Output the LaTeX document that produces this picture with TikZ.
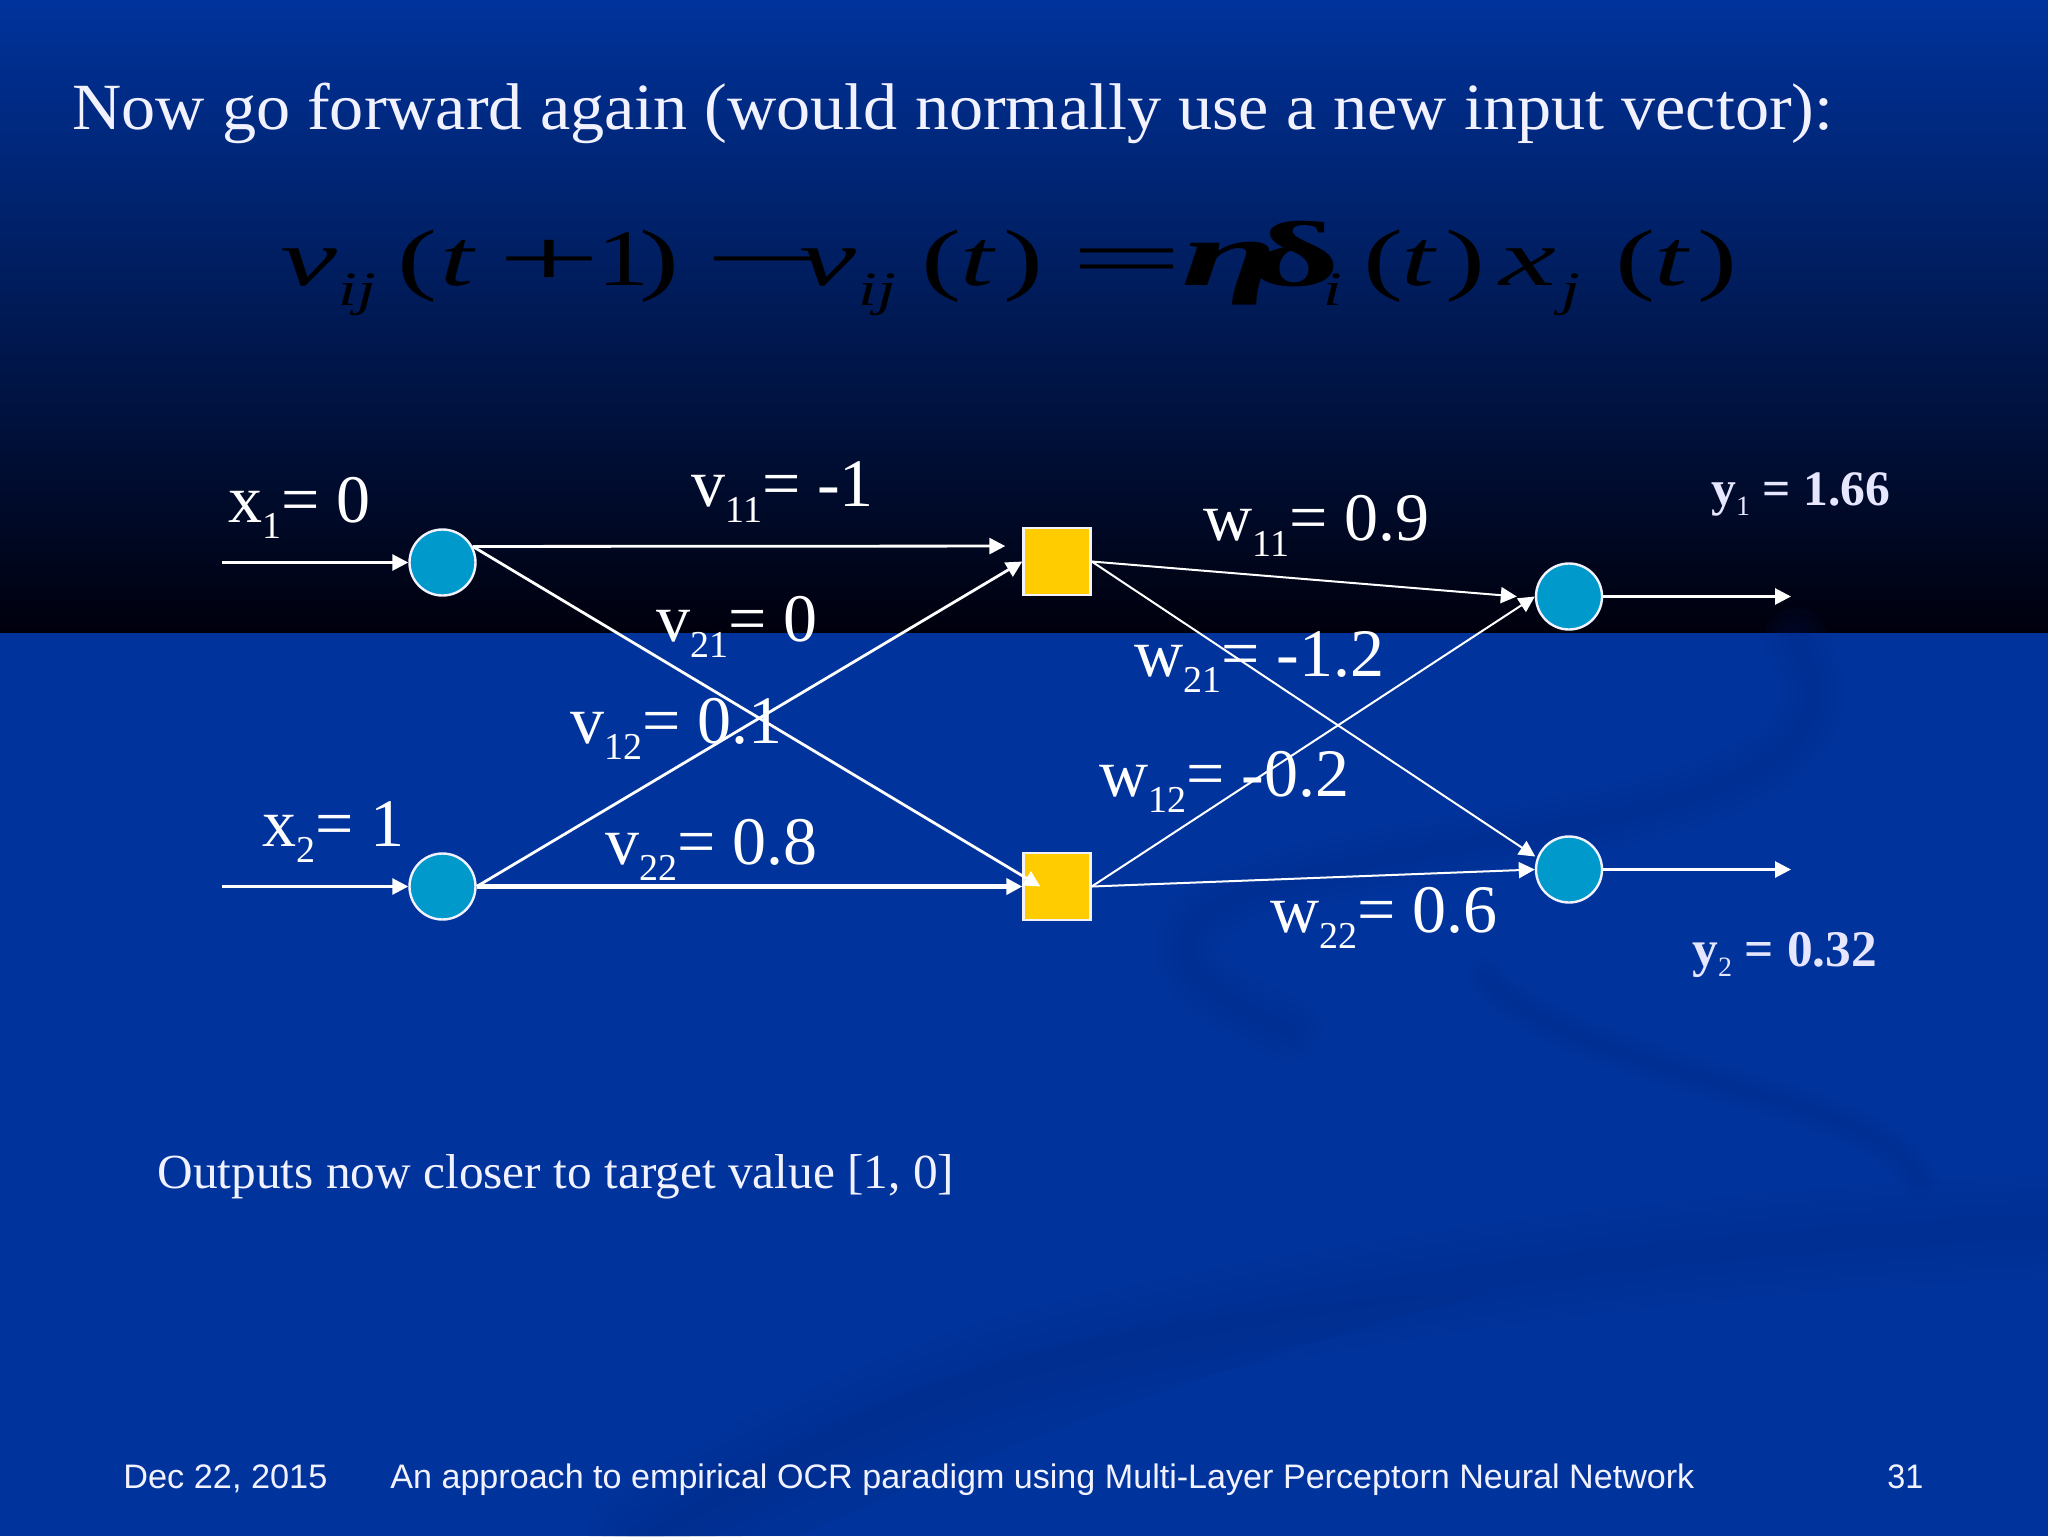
\documentclass[tikz,border=0pt]{standalone}
\usepackage{fontspec}
\setmainfont{Liberation Serif}
\newfontfamily\footfont{Liberation Sans}
\usetikzlibrary{arrows.meta}
\definecolor{slideblue}{HTML}{00339C}
\definecolor{wavedark}{HTML}{00277F}
\definecolor{nodeblue}{HTML}{0099CC}
\definecolor{nodeyellow}{HTML}{FFCC00}
\definecolor{softwhite}{HTML}{F2F2FF}
\definecolor{lavwhite}{HTML}{E6E6FF}
\newlength{\pxu}\setlength{\pxu}{0.5pt}
% one piece of the formula: absolute x in px, horizontal stretch, text
\newcommand{\fp}[3]{\hbox to 0pt{\kern#1\pxu\scalebox{#2}[1]{#3}\hss}}
\newcommand{\fsb}[3]{\hbox to 0pt{\kern#1\pxu\raisebox{-10pt}{\scalebox{#2}[1]{\fontsize{24}{24}\selectfont\itshape #3}}\hss}}
\newcommand{\fgr}{\fontsize{46}{46}\selectfont\bfseries}
\newcommand{\lsub}[1]{\raisebox{-8pt}{\fontsize{19}{19}\selectfont #1}}
\newcommand{\ysub}[1]{\raisebox{-5pt}{\fontsize{14}{14}\selectfont\mdseries #1}}
\tikzset{
  lab/.style={anchor=base west,inner sep=0,text=white,font=\fontsize{34}{35}\selectfont},
  outlab/.style={anchor=base west,inner sep=0,text=lavwhite,font=\fontsize{24.8}{26}\selectfont\bfseries},
  foot/.style={anchor=base west,inner sep=0,text=softwhite,font=\footfont\fontsize{17}{18}\selectfont},
  neuron/.style={circle,draw=softwhite,line width=1.2pt,fill=nodeblue,minimum size=33pt,inner sep=0},
  hidden/.style={rectangle,draw=softwhite,line width=1.2pt,fill=nodeyellow,minimum size=33.5pt,inner sep=0},
  conn/.style={draw=white,line width=1.4pt,-{Triangle[length=8pt,width=8pt]}},
  connthin/.style={draw=white,line width=1pt,-{Triangle[length=8pt,width=8pt]}},
  connthick/.style={draw=white,line width=2.6pt,-{Triangle[length=8pt,width=8pt]}},
  wave/.style={draw=wavedark,line cap=round,line join=round,opacity=.07}
}
\begin{document}
\begin{tikzpicture}[x=0.5pt,y=-0.5pt]
\useasboundingbox (0,0) rectangle (2048,1536);
% background
\fill[slideblue] (0,0) rectangle (2048,1536);
\fill[top color=slideblue,bottom color=black!95!blue] (0,0) rectangle (2048,632);
% background waves
\foreach \w in {8,16,24,32}{
  \draw[wave,line width=\w pt] (1795,640) .. controls (1830,700) and (1820,760) .. (1676,800)
     .. controls (1500,850) and (1290,860) .. (1210,910) .. controls (1160,950) and (1190,990) .. (1290,1030);
  \draw[wave,line width=.6*\w pt] (1485,976) .. controls (1530,1030) and (1640,1060) .. (1795,1105) .. controls (1870,1130) and (1900,1150) .. (1920,1180);
  \draw[wave,line width=1.6*\w pt] (2048,1227) .. controls (1700,1240) and (1300,1290) .. (1000,1370) .. controls (850,1420) and (750,1470) .. (640,1536);
}
\fill[wavedark,opacity=.15] (1000,1363) .. controls (870,1400) and (760,1460) .. (640,1536) -- (800,1536) .. controls (1000,1440) and (1300,1340) .. (1500,1290) .. controls (1300,1300) and (1150,1320) .. (1000,1363) -- cycle;
% title
\node[anchor=base west,inner sep=0,text=softwhite,font=\fontsize{33}{34}\selectfont] (title) at (72,129)
  {\resizebox{880.5pt}{\height}{Now go forward again (would normally use a new input vector):}};
% formula
\node[anchor=base west,inner sep=0,text=black,font=\fontsize{40}{40}\selectfont] (formula) at (0,285) {%
\fp{279}{1.6}{\itshape v}\fsb{337}{1.4}{ij}\fp{396}{1.5}{(}\fp{439}{1.5}{\itshape t}%
\fp{496}{2.3}{+}\fp{596}{1.3}{1}\fp{638}{1.5}{)}\fp{702}{2.7}{\char"2212}%
\fp{798}{1.6}{\itshape v}\fsb{857}{1.4}{ij}\fp{920}{1.5}{(}\fp{959}{1.5}{\itshape t}\fp{1002}{1.5}{)}%
\fp{1069}{2.5}{=}\fp{1180}{1.9}{\fgr\itshape\char"03B7}\fp{1248}{1.9}{\fgr\char"03B4}\fsb{1322}{1.4}{i}%
\fp{1362}{1.5}{(}\fp{1400}{1.5}{\itshape t}\fp{1444}{1.5}{)}\fp{1498}{1.6}{\itshape x}\fsb{1560}{1.4}{j}%
\fp{1614}{1.5}{(}\fp{1653}{1.5}{\itshape t}\fp{1696}{1.5}{)}};
% network nodes
\node[neuron] (c1) at (442.5,562.5) {};
\node[neuron] (c2) at (442.5,886.5) {};
\node[hidden] (s1) at (1057,561.5) {};
\node[hidden] (s2) at (1057,886.5) {};
\node[neuron] (o1) at (1569,596.5) {};
\node[neuron] (o2) at (1569,869.5) {};
\coordinate (in1) at (222,562.5);
\coordinate (in2) at (222,886.5);
\coordinate (out1) at (1791,596.5);
\coordinate (out2) at (1791,869.5);
% connectors
\draw[conn] (in1) -- (c1.west);
\draw[conn] (in2) -- (c2.west);
\draw[conn] (c1.28) -- ([xshift=-8.5pt]s1.156);
\draw[conn] (c1.28) -- ([xshift=9pt]s2.west);
\draw[conn] (c2.east) -- (s1.west);
\draw[connthick] (c2.east) -- (s2.west);
\draw[connthin] (s1.east) -- ([xshift=-9pt]o1.west);
\draw[connthin] (s1.east) -- ([shift={(-1.5pt,-1pt)}]o2.154);
\draw[connthin] (s2.east) -- (o1.west);
\draw[connthin] (s2.east) -- (o2.west);
\draw[conn] (o1.east) -- (out1);
\draw[conn] (o2.east) -- (out2);
% labels
\node[lab] (lx1) at (228,522) {x\lsub{1}= 0};
\node[lab] (lx2) at (262,846) {x\lsub{2}= 1};
\node[lab] (lv11) at (691,506) {v\lsub{11}= -1};
\node[lab] (lv21) at (656,641) {v\lsub{21}= 0};
\node[lab] (lv12) at (570,743) {v\lsub{12}= 0.1};
\node[lab] (lv22) at (605,864) {v\lsub{22}= 0.8};
\node[lab] (lw11) at (1203,540) {w\lsub{11}= 0.9};
\node[lab] (lw21) at (1134,676) {w\lsub{21}= -1.2};
\node[lab] (lw12) at (1099,796) {w\lsub{12}= -0.2};
\node[lab] (lw22) at (1270,932) {w\lsub{22}= 0.6};
\node[outlab] (ly1) at (1711,505) {y\ysub{1} = 1.66};
\node[outlab,font=\fontsize{25.7}{27}\selectfont\bfseries] (ly2) at (1692,966) {y\ysub{2} = 0.32};
\node[anchor=base west,inner sep=0,text=softwhite,font=\fontsize{24.5}{25}\selectfont] (note) at (157,1188)
  {\resizebox{398.5pt}{\height}{Outputs now closer to target value [1, 0]}};
% footer
\node[foot] (fdate) at (123,1488) {\resizebox{102pt}{\height}{Dec 22, 2015}};
\node[foot] (ftext) at (390,1488) {\resizebox{652pt}{\height}{An approach to empirical OCR paradigm using Multi-Layer Perceptorn Neural Network}};
\node[foot] (fnum) at (1887,1488) {\resizebox{18pt}{\height}{31}};
\end{tikzpicture}
\end{document}
